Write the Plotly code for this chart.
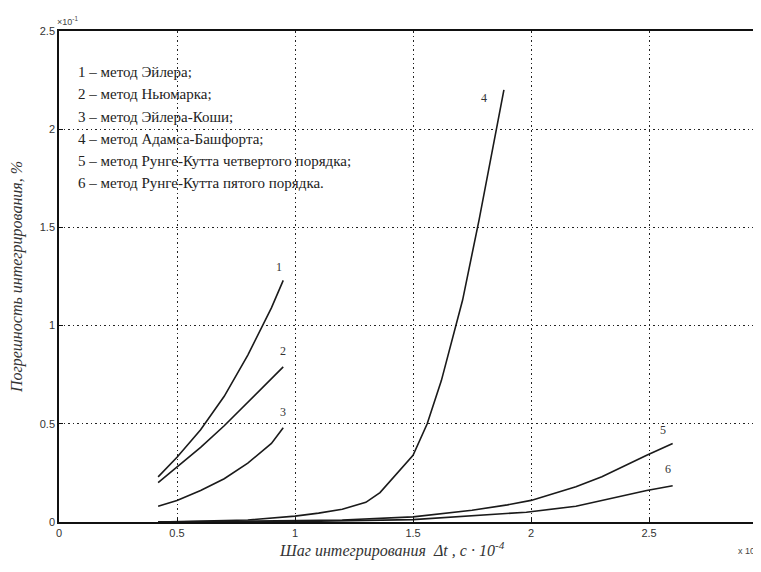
import plotly.graph_objects as go

# ---- data ----
x1 = [0.42, 0.5, 0.6, 0.7, 0.8, 0.9, 0.95]
y1 = [0.23, 0.33, 0.47, 0.64, 0.85, 1.09, 1.23]

x2 = [0.42, 0.5, 0.6, 0.7, 0.8, 0.9, 0.95]
y2 = [0.20, 0.28, 0.38, 0.49, 0.61, 0.73, 0.79]

x3 = [0.42, 0.5, 0.6, 0.7, 0.8, 0.9, 0.95]
y3 = [0.08, 0.11, 0.16, 0.22, 0.30, 0.40, 0.48]

x4 = [0.42, 0.6, 0.8, 1.0, 1.1, 1.2, 1.3, 1.36, 1.44, 1.5, 1.56, 1.62, 1.71, 1.78, 1.885]
y4 = [0.0, 0.003, 0.01, 0.03, 0.045, 0.065, 0.1, 0.15, 0.26, 0.34, 0.5, 0.72, 1.13, 1.54, 2.2]

x5 = [0.42, 1.0, 1.2, 1.5, 1.75, 1.9, 2.0, 2.19, 2.3, 2.49, 2.6]
y5 = [0.0, 0.005, 0.01, 0.026, 0.06, 0.087, 0.11, 0.18, 0.23, 0.34, 0.40]

x6 = [0.42, 1.0, 1.5, 1.75, 1.98, 2.19, 2.3, 2.49, 2.6]
y6 = [0.0, 0.002, 0.012, 0.03, 0.05, 0.08, 0.11, 0.16, 0.185]

curve_labels = ["1", "2", "3", "4", "5", "6"]
label_x = [0.93, 0.95, 0.95, 1.80, 2.56, 2.58]
label_y = [1.30, 0.87, 0.56, 2.16, 0.47, 0.27]

legend_lines = [
    "1 – метод Эйлера;",
    "2 – метод Ньюмарка;",
    "3 – метод Эйлера-Коши;",
    "4 – метод Адамса-Башфорта;",
    "5 – метод Рунге-Кутта четвертого порядка;",
    "6 – метод Рунге-Кутта пятого порядка.",
]

xticks = [0, 0.5, 1, 1.5, 2, 2.5]
xticktext = ["0", "0.5", "1", "1.5", "2", "2.5"]
yticks = [0, 0.5, 1, 1.5, 2, 2.5]
yticktext = ["0", "0.5", "1", "1.5", "2", "2.5"]

fig = go.Figure()
for xs, ys in [(x1, y1), (x2, y2), (x3, y3), (x4, y4), (x5, y5), (x6, y6)]:
    fig.add_trace(go.Scatter(x=xs, y=ys, mode="lines",
                             line=dict(color="#1a1a1a", width=1.6),
                             showlegend=False, hoverinfo="skip"))

serif = "Liberation Serif"
sans = "Liberation Sans"
for t, lx, ly in zip(curve_labels, label_x, label_y):
    fig.add_annotation(x=lx, y=ly, text=t, showarrow=False, xref="x", yref="y",
                       font=dict(family=serif, size=12, color="#333"))

leg_y0 = 2.29
leg_dy = 0.113
for i, t in enumerate(legend_lines):
    fig.add_annotation(x=0.07, y=leg_y0 - i * leg_dy, text=t, showarrow=False,
                       xref="x", yref="y", xanchor="left", yanchor="middle",
                       font=dict(family=serif, size=15, color="#222"))

fig.add_annotation(x=-0.005, y=1.0, xref="paper", yref="paper", xanchor="left", yanchor="bottom",
                   text="×10<sup>-1</sup>", showarrow=False,
                   font=dict(family=sans, size=9, color="#444"), yshift=2)
fig.add_annotation(x=0.966, y=-0.04, xref="paper", yref="paper", xanchor="left", yanchor="top",
                   text="x 10<sup>-4</sup>", showarrow=False,
                   font=dict(family=sans, size=9, color="#444"))
fig.add_annotation(x=0.475, y=-0.057, xref="paper", yref="paper", xanchor="center", yanchor="middle",
                   text="<i>Шаг интегрирования  Δt , c · 10<sup>-4</sup></i>", showarrow=False,
                   font=dict(family=serif, size=16, color="#333"))

grid_dash = "1.5px,3px"
fig.update_layout(
    width=753, height=564,
    margin=dict(l=51, r=1, t=23, b=50),
    paper_bgcolor="white", plot_bgcolor="white",
    xaxis=dict(range=[0, 2.97], tickvals=xticks, ticktext=xticktext,
               showgrid=True, gridcolor="#222", griddash=grid_dash, gridwidth=1.2,
               zeroline=False, showline=True, linecolor="#111", linewidth=1.5, mirror=True,
               ticks="inside", ticklen=4, tickcolor="#111",
               tickfont=dict(family=sans, size=11, color="#333")),
    yaxis=dict(range=[0, 2.5], tickvals=yticks, ticktext=yticktext,
               showgrid=True, gridcolor="#222", griddash=grid_dash, gridwidth=1.2,
               zeroline=False, showline=True, linecolor="#111", linewidth=1.5,
               ticks="inside", ticklen=4, tickcolor="#111",
               tickfont=dict(family=sans, size=11, color="#333"),
               title=dict(text="<i>Погрешность интегрирования, %</i>",
                          font=dict(family=serif, size=16, color="#333"), standoff=14)),
)

fig.write_html("out.html")
